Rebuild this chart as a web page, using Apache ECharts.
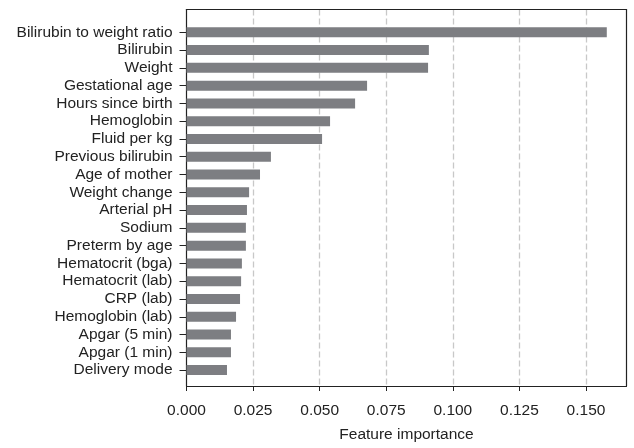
<!DOCTYPE html>
<html>
<head>
<meta charset="utf-8">
<script src="https://cdn.jsdelivr.net/npm/echarts@6/dist/echarts.min.js"></script>
<style>
  html, body { margin: 0; padding: 0; background: #fff; }
  #chart { width: 634px; height: 448px; }
</style>
</head>
<body>
<div id="chart"></div>
<script>
const features = [
  "Bilirubin to weight ratio", "Bilirubin", "Weight", "Gestational age",
  "Hours since birth", "Hemoglobin", "Fluid per kg", "Previous bilirubin",
  "Age of mother", "Weight change", "Arterial pH", "Sodium", "Preterm by age",
  "Hematocrit (bga)", "Hematocrit (lab)", "CRP (lab)", "Hemoglobin (lab)",
  "Apgar (5 min)", "Apgar (1 min)", "Delivery mode"
];
const importance = [
  0.1578, 0.0910, 0.0907, 0.0678,
  0.0633, 0.0539, 0.0509, 0.0317,
  0.0276, 0.0235, 0.0227, 0.0223, 0.0223,
  0.0208, 0.0205, 0.0201, 0.0186,
  0.0167, 0.0167, 0.0152
];
const xMax = 0.1652;
const textColor = "#222";
const frameColor = "#222";
const font = "Liberation Sans, Arial, sans-serif";
const fontSize = 15.5;

const chart = echarts.init(document.getElementById("chart"));

const frameLine = { show: true, onZero: false, lineStyle: { color: frameColor, width: 1.2 } };

chart.setOption({
  animation: false,
  textStyle: { fontFamily: font },
  grid: [
    // frame + x axis
    { left: 186.5, right: 7.5, top: 9.5, bottom: 55 },
    // bars
    { left: 186.5, right: 7.5, top: 23.4, height: 355.6 }
  ],
  xAxis: [
    {
      gridIndex: 0,
      type: "value",
      min: 0,
      max: xMax,
      interval: 0.025,
      name: "Feature importance",
      nameLocation: "middle",
      nameGap: 41,
      nameTextStyle: { color: textColor, fontSize: fontSize, fontFamily: font },
      axisLine: frameLine,
      axisTick: { show: true, length: 5, lineStyle: { color: frameColor } },
      axisLabel: {
        color: textColor, fontSize: fontSize, margin: 17, fontFamily: font,
        formatter: v => v.toFixed(3),
        showMaxLabel: false
      },
      splitLine: {
        show: true, showMinLine: false, showMaxLine: false,
        lineStyle: { color: "#c8c8c8", width: 1.3, type: [6, 3] }
      }
    },
    {
      gridIndex: 1,
      type: "value",
      min: 0,
      max: xMax,
      show: false,
      splitLine: { show: false }
    },
    {
      gridIndex: 0,
      type: "value",
      position: "top",
      min: 0,
      max: xMax,
      axisLine: frameLine,
      axisTick: { show: false },
      axisLabel: { show: false },
      splitLine: { show: false }
    }
  ],
  yAxis: [
    {
      gridIndex: 0, type: "value", position: "left", min: 0, max: 1,
      axisLine: frameLine, axisTick: { show: false },
      axisLabel: { show: false }, splitLine: { show: false }
    },
    {
      gridIndex: 1,
      type: "category",
      inverse: true,
      data: features,
      axisLine: { show: false },
      axisTick: { show: true, interval: 0, alignWithLabel: true, length: 7, lineStyle: { color: frameColor } },
      axisLabel: { color: textColor, fontSize: fontSize, margin: 14, interval: 0, fontFamily: font }
    },
    {
      gridIndex: 0, type: "value", position: "right", min: 0, max: 1,
      axisLine: frameLine, axisTick: { show: false },
      axisLabel: { show: false }, splitLine: { show: false }
    }
  ],
  series: [
    {
      type: "bar",
      xAxisIndex: 1,
      yAxisIndex: 1,
      data: importance,
      barWidth: 10,
      itemStyle: { color: "#7d7e82" },
      z: 3
    }
  ]
});
</script>
</body>
</html>
